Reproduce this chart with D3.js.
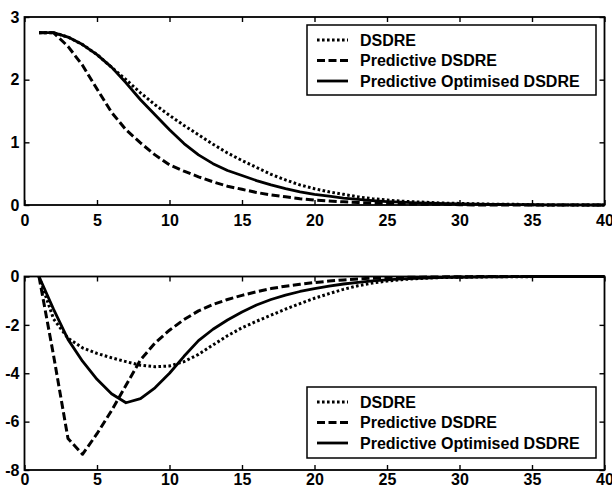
<!DOCTYPE html>
<html>
<head>
<meta charset="utf-8">
<script src="https://cdn.jsdelivr.net/npm/d3@7/dist/d3.min.js"></script>
<style>
  html, body { margin: 0; padding: 0; background: #fff; }
  svg text { font-family: "Liberation Sans", Arial, sans-serif; font-weight: bold; font-size: 16px; fill: #000; }
</style>
</head>
<body>
<svg id="chart" width="612" height="493"></svg>
<script>
// ---------------- data ----------------
const steps = d3.range(1, 41);

const seriesNames = ["DSDRE", "Predictive DSDRE", "Predictive Optimised DSDRE"];

const topDSDRE = [2.75, 2.75, 2.68, 2.56, 2.4, 2.2, 2.0, 1.79, 1.6, 1.43,
  1.27, 1.12, 0.97, 0.83, 0.71, 0.6, 0.49, 0.4, 0.32, 0.26,
  0.21, 0.17, 0.13, 0.1, 0.08, 0.06, 0.05, 0.04, 0.03, 0.025,
  0.02, 0.015, 0.01, 0.01, 0.005, 0, 0, 0, 0, 0];
const topPredictive = [2.75, 2.75, 2.53, 2.23, 1.85, 1.48, 1.2, 0.99, 0.8, 0.64,
  0.54, 0.45, 0.37, 0.3, 0.25, 0.2, 0.16, 0.13, 0.1, 0.08,
  0.065, 0.05, 0.04, 0.03, 0.025, 0.02, 0.015, 0.01, 0.01, 0.005,
  0, 0, 0, 0, 0, 0, 0, 0, 0, 0];
const topPredOpt = [2.75, 2.75, 2.68, 2.56, 2.4, 2.2, 1.95, 1.68, 1.44, 1.2,
  0.98, 0.8, 0.66, 0.55, 0.47, 0.39, 0.32, 0.26, 0.21, 0.17,
  0.14, 0.11, 0.09, 0.07, 0.055, 0.045, 0.035, 0.028, 0.022, 0.017,
  0.013, 0.01, 0.008, 0.006, 0.004, 0.003, 0.002, 0.001, 0, 0];

const botDSDRE = [0, -1.75, -2.55, -2.95, -3.18, -3.36, -3.52, -3.67, -3.73, -3.7,
  -3.52, -3.22, -2.83, -2.45, -2.12, -1.85, -1.6, -1.35, -1.12, -0.9,
  -0.71, -0.53, -0.38, -0.27, -0.19, -0.13, -0.09, -0.06, -0.04, -0.03,
  -0.02, -0.015, -0.01, -0.01, -0.005, 0, 0, 0, 0, 0];
const botPredictive = [0, -3.25, -6.7, -7.35, -6.5, -5.55, -4.5, -3.45, -2.75, -2.22,
  -1.78, -1.42, -1.16, -0.95, -0.78, -0.63, -0.5, -0.4, -0.32, -0.25,
  -0.19, -0.14, -0.1, -0.07, -0.05, -0.04, -0.03, -0.02, -0.015, -0.01,
  -0.005, 0, 0, 0, 0, 0, 0, 0, 0, 0];
const botPredOpt = [0, -1.35, -2.6, -3.5, -4.25, -4.85, -5.22, -5.05, -4.6, -4.0,
  -3.3, -2.65, -2.18, -1.8, -1.47, -1.18, -0.95, -0.77, -0.62, -0.5,
  -0.4, -0.31, -0.24, -0.18, -0.14, -0.1, -0.075, -0.055, -0.04, -0.03,
  -0.02, -0.015, -0.01, -0.005, 0, 0, 0, 0, 0, 0];

const xTicks = [0, 5, 10, 15, 20, 25, 30, 35, 40];
const topYTicks = [0, 1, 2, 3];
const botYTicks = [0, -2, -4, -6, -8];

// ---------------- styles ----------------
const styles = [
  { dash: "2.6,2.4", width: 3 },   // dotted
  { dash: "8,3.5", width: 3 },     // dashed
  { dash: null, width: 2.8 }       // solid
];

const svg = d3.select("#chart");
const x = d3.scaleLinear().domain([0, 40]).range([24.5, 604.5]);
const fmt = d => String(d);   // plain hyphen minus, integers

function panel(opts) {
  const y = d3.scaleLinear().domain(opts.yDomain).range(opts.yRange);
  const g = svg.append("g");
  const top = opts.yRange[1], bottom = opts.yRange[0];

  // axes with inward ticks
  g.append("g").attr("transform", `translate(0,${bottom})`)
    .call(d3.axisBottom(x).tickValues(xTicks).tickFormat(fmt).tickSizeInner(-5).tickSizeOuter(0).tickPadding(opts.xPad));
  g.append("g").attr("transform", `translate(0,${top})`)
    .call(d3.axisTop(x).tickValues(xTicks).tickSizeInner(-5).tickSizeOuter(0).tickFormat(""));
  g.append("g").attr("transform", `translate(${x.range()[0]},0)`)
    .call(d3.axisLeft(y).tickValues(opts.yTicks).tickFormat(fmt).tickSizeInner(-5).tickSizeOuter(0).tickPadding(5));
  g.append("g").attr("transform", `translate(${x.range()[1]},0)`)
    .call(d3.axisRight(y).tickValues(opts.yTicks).tickSizeInner(-5).tickSizeOuter(0).tickFormat(""));
  g.selectAll(".domain").remove();
  g.selectAll(".tick line").attr("stroke", "#000").attr("stroke-width", 1.4);
  g.selectAll(".tick text").attr("font-size", 16).attr("font-family", "Liberation Sans, Arial, sans-serif").attr("font-weight", "bold");

  // lines
  const line = d3.line().x((d, i) => x(steps[i])).y(d => y(d));
  opts.series.forEach((s, k) => {
    g.append("path").datum(s)
      .attr("d", line)
      .attr("fill", "none")
      .attr("stroke", "#000")
      .attr("stroke-width", styles[k].width)
      .attr("stroke-dasharray", styles[k].dash)
      .attr("stroke-linejoin", "round");
  });

  // frame
  g.append("rect")
    .attr("x", x.range()[0]).attr("y", top)
    .attr("width", x.range()[1] - x.range()[0]).attr("height", bottom - top)
    .attr("fill", "none").attr("stroke", "#000").attr("stroke-width", 1.8);

  // legend
  const L = opts.legend;
  const lg = g.append("g");
  lg.append("rect").attr("x", L.x).attr("y", L.y).attr("width", L.w).attr("height", L.h)
    .attr("fill", "#fff").attr("stroke", "#000").attr("stroke-width", 1.5);
  seriesNames.forEach((name, k) => {
    const cy = L.y + L.first + k * L.step;
    lg.append("line").attr("x1", L.x + 10).attr("x2", L.x + 41).attr("y1", cy).attr("y2", cy)
      .attr("stroke", "#000").attr("stroke-width", styles[k].width)
      .attr("stroke-dasharray", styles[k].dash);
    lg.append("text").attr("x", L.x + 53).attr("y", cy).attr("dy", "0.35em").text(name);
  });
}

panel({
  yDomain: [0, 3], yRange: [205, 17], yTicks: topYTicks, xPad: 10,
  series: [topDSDRE, topPredictive, topPredOpt],
  legend: { x: 307, y: 25, w: 289, h: 70, first: 15, step: 20.5 }
});
panel({
  yDomain: [-8, 0], yRange: [470, 276.5], yTicks: botYTicks, xPad: 4,
  series: [botDSDRE, botPredictive, botPredOpt],
  legend: { x: 307, y: 387, w: 289, h: 71, first: 15, step: 20.5 }
});
</script>
</body>
</html>
